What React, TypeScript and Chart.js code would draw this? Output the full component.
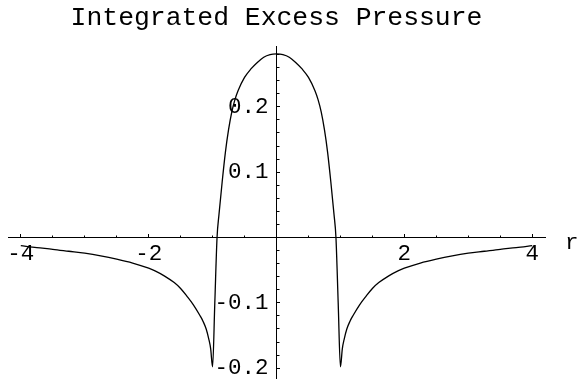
import React, { useEffect, useRef } from 'react';
import { Chart, registerables } from 'chart.js';

Chart.register(...registerables);

const TITLE = 'Integrated Excess Pressure';
const AXIS_LABEL = 'r';

const rValues = [
  -4.0, -3.75, -3.5, -3.25, -3.0, -2.75, -2.5, -2.25, -2.0, -1.9, -1.75, -1.6, -1.5, -1.4, -1.3, -1.2,
  -1.15, -1.1, -1.06, -1.03, -1.0, -0.965, -0.93, -0.9, -0.85, -0.8, -0.75, -0.7, -0.65, -0.6, -0.5,
  -0.4, -0.3, -0.2, -0.1, 0.0, 0.1, 0.2, 0.3, 0.4, 0.5, 0.6, 0.65, 0.7, 0.75, 0.8, 0.85, 0.9, 0.93,
  0.965, 1.0, 1.03, 1.06, 1.1, 1.15, 1.2, 1.3, 1.4, 1.5, 1.6, 1.75, 1.9, 2.0, 2.25, 2.5, 2.75, 3.0,
  3.25, 3.5, 3.75, 4.0,
];

const pressureValues = [
  -0.0125, -0.0155, -0.018, -0.021, -0.024, -0.028, -0.033, -0.039, -0.047, -0.051, -0.059, -0.069,
  -0.078, -0.09, -0.103, -0.119, -0.128, -0.14, -0.155, -0.17, -0.198, -0.1, 0.0, 0.035, 0.085, 0.13,
  0.165, 0.192, 0.211, 0.225, 0.245, 0.258, 0.268, 0.276, 0.28, 0.281, 0.28, 0.276, 0.268, 0.258,
  0.245, 0.225, 0.211, 0.192, 0.165, 0.13, 0.085, 0.035, 0.0, -0.1, -0.198, -0.17, -0.155, -0.14,
  -0.128, -0.119, -0.103, -0.09, -0.078, -0.069, -0.059, -0.051, -0.047, -0.039, -0.033, -0.028,
  -0.024, -0.021, -0.018, -0.0155, -0.0125,
];

const xTickLabels = [-4, -2, 2, 4];
const yTickLabels = [-0.2, -0.1, 0.1, 0.2];

const FONT = '"Liberation Mono", "Courier New", monospace';

const zeroPad = (scale: any) => {
  scale.paddingLeft = 0;
  scale.paddingRight = 0;
  scale.paddingTop = 0;
  scale.paddingBottom = 0;
};

const yLabelCallback = (v: any) => {
  const n = Math.round(Number(v) * 10) / 10;
  return yTickLabels.includes(n) ? n.toFixed(1) : '';
};

const axisLabelPlugin = {
  id: 'axisLabel',
  afterDraw(chart: any) {
    const { ctx, chartArea, scales } = chart;
    const y0 = scales.y.getPixelForValue(0);
    ctx.save();
    ctx.fillStyle = '#000';
    ctx.font = `22.5px ${FONT}`;
    ctx.textAlign = 'left';
    ctx.textBaseline = 'alphabetic';
    ctx.fillText(AXIS_LABEL, chartArea.right + 20, y0 + 11);
    ctx.restore();
  },
};

export default function App() {
  const canvasRef = useRef<HTMLCanvasElement | null>(null);

  useEffect(() => {
    document.body.style.margin = '0';
    const canvas = canvasRef.current;
    if (!canvas) return;
    const data = rValues.map((r, i) => ({ x: r, y: pressureValues[i] }));
    const chart = new Chart(canvas, {
      type: 'line',
      data: {
        datasets: [
          {
            data,
            borderColor: '#000',
            borderWidth: 1.3,
            pointRadius: 0,
            cubicInterpolationMode: 'monotone',
            fill: false,
          },
        ],
      },
      options: {
        responsive: false,
        animation: false,
        parsing: false,
        layout: { padding: { left: 8, right: 34, top: 0, bottom: 2 } },
        plugins: {
          legend: { display: false },
          tooltip: { enabled: false },
          title: {
            display: true,
            text: TITLE,
            fullSize: false,
            color: '#000',
            font: { family: FONT, size: 26.4, weight: 'normal', lineHeight: 1.2 },
            padding: { top: 2.2, bottom: 12.2 },
          },
        },
        scales: {
          x: {
            type: 'linear',
            min: -4.2,
            max: 4.2,
            position: { y: 0 },
            border: { display: true, color: '#000', width: 1 },
            grid: { drawOnChartArea: false, drawTicks: true, tickLength: -4, tickColor: '#000', color: '#000' },
            ticks: {
              stepSize: 2,
              includeBounds: false,
              autoSkip: false,
              maxRotation: 0,
              maxTicksLimit: 1000,
              color: '#000',
              padding: 7,
              font: { family: FONT, size: 22.5 },
              callback: (v: any) => (xTickLabels.includes(Number(v)) ? String(v) : ''),
            },
            afterFit: zeroPad,
          },
          xMinor: {
            type: 'linear',
            min: -4.2,
            max: 4.2,
            position: { y: 0 },
            border: { display: false },
            grid: { drawOnChartArea: false, drawTicks: true, tickLength: -2.5, tickColor: '#000', color: '#000' },
            ticks: { display: false, stepSize: 0.5, includeBounds: false, autoSkip: false, maxTicksLimit: 1000 },
            afterFit: zeroPad,
          },
          y: {
            type: 'linear',
            min: -0.215,
            max: 0.293,
            position: { x: 0 },
            border: { display: true, color: '#000', width: 1 },
            grid: { drawOnChartArea: false, drawTicks: true, tickLength: -4, tickColor: '#000', color: '#000' },
            ticks: {
              display: false,
              stepSize: 0.1,
              includeBounds: false,
              autoSkip: false,
              maxTicksLimit: 1000,
            },
            afterFit: zeroPad,
          },
          yLabels: {
            type: 'linear',
            min: -0.215,
            max: 0.293,
            position: { x: -0.125 },
            border: { display: false },
            grid: { display: false },
            ticks: {
              stepSize: 0.1,
              includeBounds: false,
              autoSkip: false,
              maxTicksLimit: 1000,
              color: '#000',
              font: { family: FONT, size: 22.5 },
              callback: yLabelCallback,
            },
            afterFit: zeroPad,
          },
          yMinor: {
            type: 'linear',
            min: -0.215,
            max: 0.293,
            position: { x: 0 },
            border: { display: false },
            grid: { drawOnChartArea: false, drawTicks: true, tickLength: -2.5, tickColor: '#000', color: '#000' },
            ticks: { display: false, stepSize: 0.02, includeBounds: false, autoSkip: false, maxTicksLimit: 1000 },
            afterFit: zeroPad,
          },
        },
      },
      plugins: [axisLabelPlugin],
    } as any);
    return () => chart.destroy();
  }, []);

  return (
    <div style={{ position: 'fixed', left: 0, top: 0, width: 579, height: 380, background: '#fff' }}>
      <canvas ref={canvasRef} width={579} height={380} style={{ display: 'block' }} />
    </div>
  );
}
